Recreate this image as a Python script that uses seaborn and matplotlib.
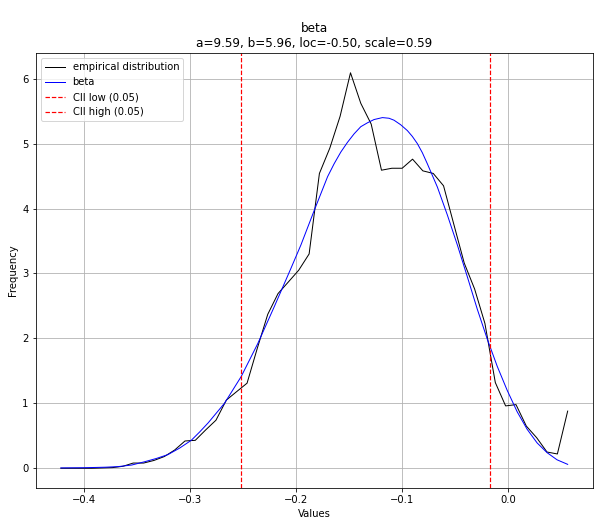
import numpy as np
import pandas as pd
import matplotlib
matplotlib.use("Agg")
import matplotlib.pyplot as plt
import seaborn as sns

# Empirical distribution (bin centers and density)
emp_x = [-0.4219, -0.4122, -0.4024, -0.3927, -0.3829, -0.3732, -0.3634, -0.3537,
         -0.3439, -0.3342, -0.3244, -0.3147, -0.3049, -0.2952, -0.2854, -0.2757,
         -0.2659, -0.2562, -0.2464, -0.2367, -0.2269, -0.2172, -0.2074, -0.1977,
         -0.1879, -0.1782, -0.1684, -0.1587, -0.1489, -0.1392, -0.1294, -0.1197,
         -0.1099, -0.1002, -0.0904, -0.0807, -0.0709, -0.0612, -0.0514, -0.0417,
         -0.0319, -0.0222, -0.0124, -0.0027, 0.0071, 0.0168, 0.0266, 0.0363,
         0.0461, 0.0558]
emp_y = [0.0, 0.0, 0.0, 0.0, 0.005, 0.01, 0.03, 0.08,
         0.08, 0.12, 0.18, 0.28, 0.42, 0.43, 0.59, 0.74,
         1.05, 1.18, 1.31, 1.85, 2.37, 2.69, 2.87, 3.05,
         3.30, 4.54, 4.93, 5.42, 6.09, 5.62, 5.30, 4.59,
         4.62, 4.62, 4.76, 4.58, 4.54, 4.35, 3.75, 3.16,
         2.76, 2.23, 1.32, 0.96, 0.98, 0.65, 0.47, 0.25,
         0.22, 0.88]

# Fitted beta pdf
beta_x = [-0.4219, -0.40, -0.38, -0.368, -0.355, -0.343, -0.332, -0.321,
          -0.310, -0.299, -0.291, -0.283, -0.2677, -0.252, -0.2363, -0.2207,
          -0.205, -0.1956, -0.1831, -0.1705, -0.1643, -0.158, -0.1517, -0.1455,
          -0.1392, -0.1329, -0.1267, -0.1188, -0.1126, -0.1079, -0.1016, -0.0953,
          -0.0906, -0.0859, -0.0812, -0.0765, -0.067, -0.0576, -0.0482, -0.0388,
          -0.0294, -0.020, -0.0106, -0.0012, 0.0082, 0.0176, 0.027, 0.0364,
          0.0458, 0.0558]
beta_y = [0.005, 0.008, 0.016, 0.025, 0.05, 0.10, 0.15, 0.21,
          0.31, 0.43, 0.56, 0.70, 1.0, 1.41, 1.92, 2.49,
          3.08, 3.44, 3.97, 4.49, 4.69, 4.87, 5.02, 5.15,
          5.26, 5.32, 5.37, 5.40, 5.39, 5.36, 5.29, 5.20,
          5.11, 5.00, 4.86, 4.69, 4.33, 3.90, 3.44, 2.95,
          2.45, 1.99, 1.57, 1.20, 0.87, 0.60, 0.39, 0.24,
          0.13, 0.06]

cii_low = -0.2519
cii_high = -0.0178
title = "beta\na=9.59, b=5.96, loc=-0.50, scale=0.59"

emp_df = pd.DataFrame({"x": emp_x, "y": emp_y})
beta_df = pd.DataFrame({"x": beta_x, "y": beta_y})

fig = plt.figure(figsize=(599 / 72, 526 / 72), dpi=72)
ax = fig.add_axes([0.0593, 0.0722, 0.9307, 0.827])

sns.lineplot(data=emp_df, x="x", y="y", sort=False, estimator=None,
             color="black", linewidth=1, label="empirical distribution", ax=ax)
sns.lineplot(data=beta_df, x="x", y="y", sort=False, estimator=None,
             color="blue", linewidth=1, label="beta", ax=ax)
ax.axvline(cii_low, color="red", linestyle="--", linewidth=1.2, label="CII low (0.05)")
ax.axvline(cii_high, color="red", linestyle="--", linewidth=1.2, label="CII high (0.05)")

ax.set_title(title, fontsize=12)
ax.set_xlabel("Values")
ax.set_ylabel("Frequency")
ax.grid(True)
ax.legend(loc="upper left")

fig.savefig("out.png", dpi=72)
